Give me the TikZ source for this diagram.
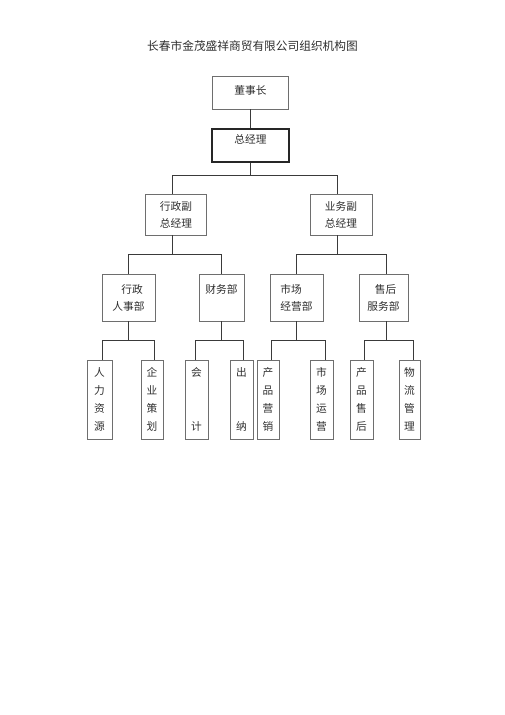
\documentclass[tikz,border=0pt]{standalone}
\usepackage{fontspec}
\setmainfont{Noto Sans CJK SC}
\usepackage{tikz}
\definecolor{boxline}{HTML}{6E6E6E}
\definecolor{linkline}{HTML}{3A3A3A}
\definecolor{inkgray}{HTML}{2E2E2E}

\tikzset{
  unit/.style={draw=boxline, line width=0.7pt, inner sep=0pt, align=center,
               text=inkgray, font=\fontsize{10.7}{17}\selectfont},
  post/.style={unit, minimum width=23pt, minimum height=79pt,
               font=\fontsize{10.7}{18}\selectfont},
  link/.style={draw=linkline, line width=0.8pt},
}

\begin{document}
\begin{tikzpicture}[x=1pt,y=-1pt]
  \useasboundingbox (0,0) rectangle (505,715);
  \node[text=inkgray, font=\fontsize{11.7}{13}\selectfont] (title) at (252.5,46)
    {长春市金茂盛祥商贸有限公司组织机构图};

  % top
  \node[unit, minimum width=76pt, minimum height=33pt, text depth=5pt] (chair) at (250.5,92.5) {董事长};
  \node[unit, draw=black!85, line width=1.2pt, minimum width=77pt,
        minimum height=33pt, text depth=12pt] (gm) at (250.5,145.5) {总经理};

  % vice managers
  \node[unit, minimum width=61pt, minimum height=41pt] (vpadmin) at (176,214.5) {行政副\\总经理};
  \node[unit, minimum width=62pt, minimum height=41pt] (vpsales) at (341,214.5) {业务副\\总经理};

  % departments
  \node[unit, minimum width=53pt, minimum height=47pt] (hr) at (128.5,297.5) {\hspace{7pt}行政\\人事部};
  \node[unit, minimum width=45pt, minimum height=47pt] (fin) at (221.5,297.5) {财务部\\\phantom{财务部}};
  \node[unit, align=left, minimum width=53pt, minimum height=47pt] (mkt) at (296.5,297.5) {市场\\经营部};
  \node[unit, minimum width=49pt, minimum height=47pt] (svc) at (383.5,297.5) {\hspace{4pt}售后\\服务部};

  % posts
  \node[post, minimum width=25pt] (hrres) at (99.5,399.5) {人\\力\\资\\源};
  \node[post, minimum width=22pt] (plan) at (152,399.5) {企\\业\\策\\划};
  \node[post] (acct) at (196.5,399.5) {会\\[36pt]计};
  \node[post] (cash) at (241.5,399.5) {出\\[36pt]纳};
  \node[post, minimum width=22pt] (sell) at (268,399.5) {产\\品\\营\\销};
  \node[post] (oper) at (321.5,399.5) {市\\场\\运\\营};
  \node[post] (after) at (361.5,399.5) {产\\品\\售\\后};
  \node[post, minimum width=21pt] (logi) at (409.5,399.5) {物\\流\\管\\理};

  % connectors
  \coordinate (busa) at (0,175);
  \coordinate (busb) at (0,254);
  \coordinate (busc) at (0,340);
  \draw[link] (chair) -- (gm);
  \foreach \c in {vpadmin,vpsales}
    \draw[link] (gm.south) -- (gm.south |- busa) -| ([xshift=-4pt]\c.north);
  \foreach \c in {hr,fin}
    \draw[link] ([xshift=-4pt]vpadmin.south) -- ([xshift=-4pt]vpadmin.south |- busb) -| (\c.north);
  \foreach \c/\s in {mkt/0,svc/2.5}
    \draw[link] ([xshift=-4pt]vpsales.south) -- ([xshift=-4pt]vpsales.south |- busb) -| ([xshift=\s pt]\c.north);
  \foreach \p/\ps/\a/\as/\b/\bs in {hr/0/hrres/2.5/plan/2, fin/0/acct/-1.5/cash/1.5,
      mkt/0/sell/3/oper/3.5, svc/2.5/after/2.5/logi/3.5}{
    \draw[link] ([xshift=\ps pt]\p.south) -- ([xshift=\ps pt]\p.south |- busc) -| ([xshift=\as pt]\a.north);
    \draw[link] ([xshift=\ps pt]\p.south |- busc) -| ([xshift=\bs pt]\b.north);
  }
\end{tikzpicture}
\end{document}
